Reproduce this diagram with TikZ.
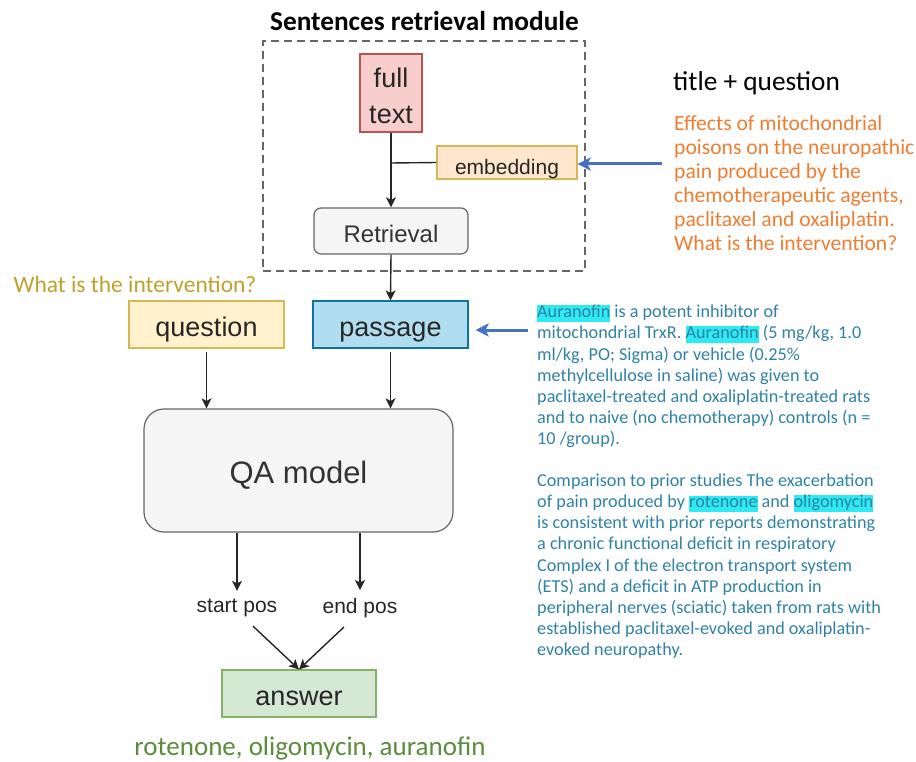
\documentclass[tikz,border=0pt]{standalone}
\usepackage{fontspec}
\setmainfont{Carlito}
\newfontfamily\boxfont{Liberation Sans}
\usetikzlibrary{arrows.meta,calc}

\definecolor{pinkfill}{HTML}{F8CECC}
\definecolor{pinkline}{HTML}{B85450}
\definecolor{orfill}{HTML}{FFE6CC}
\definecolor{goldline}{HTML}{D6B656}
\definecolor{yelfill}{HTML}{FFF2CC}
\definecolor{greyfill}{HTML}{F5F5F5}
\definecolor{greyline}{HTML}{666666}
\definecolor{bluefill}{HTML}{B1DDF0}
\definecolor{blueline}{HTML}{10739E}
\definecolor{greenfill}{HTML}{D5E8D4}
\definecolor{greenline}{HTML}{82B366}
\definecolor{darktext}{HTML}{333333}
\definecolor{orangetext}{HTML}{ED7D31}
\definecolor{olivetext}{HTML}{BFA02A}
\definecolor{greentext}{HTML}{5B8C3E}
\definecolor{tealtext}{HTML}{2F82A5}
\definecolor{hlcyan}{HTML}{2EEAF2}
\definecolor{arrowblue}{HTML}{4472C4}

% cyan highlight behind a word
\newcommand{\hlword}[1]{{\setlength{\fboxsep}{0pt}\colorbox{hlcyan}{\rule[-0.22em]{0pt}{0.88em}#1}}}

\tikzset{
  box/.style={draw, line width=1.2pt, inner sep=0pt, align=center, text depth=0pt,
    font=\boxfont, text=black!85},
  flow/.style={draw=black!85, line width=1.4pt, -{Stealth[length=10pt,width=10pt,inset=2.5pt]}},
  feed/.style={draw=arrowblue, line width=3pt, -{Stealth[length=13pt,width=13pt,inset=3pt]}},
  plain/.style={inner sep=0pt, align=left},
}

\begin{document}
\begin{tikzpicture}[x=1pt,y=-1pt]
\useasboundingbox (0,0) rectangle (916,762);

% retrieval module frame and its title
\node[draw=greyline, line width=1.5pt, dash pattern=on 8pt off 5pt,
      minimum width=322pt, minimum height=230pt, inner sep=0pt] (module) at (424,156) {};
\node[plain, font=\fontsize{27.3}{30}\selectfont\bfseries] (modtitle) at (424.5,21) {Sentences retrieval module};

% boxes inside the module
\node[box, fill=pinkfill, draw=pinkline, minimum width=62pt, minimum height=78pt,
      font=\boxfont\fontsize{27}{36}\selectfont] (full) at (391,93)
  {\raisebox{5pt}[0pt][0pt]{\begin{tabular}[t]{@{}c@{}}full\\text\end{tabular}}};
\node[box, fill=orfill, draw=goldline, minimum width=140pt, minimum height=33pt, text height=25pt,
      font=\boxfont\fontsize{21}{24}\selectfont] (emb) at (507,162.5) {embedding};
\node[box, fill=greyfill, draw=greyline, rounded corners=7pt, minimum width=154pt, minimum height=46pt,
      text height=24pt, font=\boxfont\fontsize{24}{28}\selectfont, text=darktext] (ret) at (391,231) {Retrieval};
\coordinate (junc) at (391,163);

% reader inputs
\node[box, fill=yelfill, draw=goldline, minimum width=155pt, minimum height=47pt, text height=23pt,
      font=\boxfont\fontsize{27}{30}\selectfont] (q) at (206.5,324.5) {question};
\node[box, fill=bluefill, draw=blueline, minimum width=155pt, minimum height=47pt, text height=23pt,
      font=\boxfont\fontsize{27}{30}\selectfont] (pas) at (390.5,324.5) {passage};
\node[plain, font=\fontsize{23.5}{26}\selectfont, text=olivetext] (qtext) at (135,284) {What is the intervention?};

% reader model and outputs
\node[box, fill=greyfill, draw=greyline, rounded corners=20pt, minimum width=309pt, minimum height=123pt,
      text height=25pt, font=\boxfont\fontsize{31}{34}\selectfont, text=darktext] (qa) at (298.5,470.5) {QA model};
\node[plain, font=\boxfont\fontsize{21}{24}\selectfont, text=black!85] (sp) at (237,608) {start pos};
\node[plain, font=\boxfont\fontsize{21}{24}\selectfont, text=black!85] (ep) at (360,608) {end pos};
\node[box, fill=greenfill, draw=greenline, minimum width=154pt, minimum height=47pt, text height=23pt,
      font=\boxfont\fontsize{27}{30}\selectfont] (ans) at (299,693.5) {answer};
\node[plain, font=\fontsize{27}{30}\selectfont, text=greentext] (anstext) at (310,748) {rotenone, oligomycin, auranofin};

% query text on the right
\node[plain, anchor=west, font=\fontsize{27.3}{30}\selectfont] (tq) at (673,83) {title + question};
\node[plain, anchor=north west, font=\fontsize{21.6}{24.1}\selectfont, text=orangetext] (query) at (674,115)
  {Effects of mitochondrial\\poisons on the neuropathic\\pain produced by the\\chemotherapeutic agents,\\paclitaxel and oxaliplatin.\\What is the intervention?};

% retrieved passages
\node[plain, anchor=north west, font=\fontsize{18.2}{21.1}\selectfont, text=tealtext] (para) at (537,305)
  {\hlword{Auranofin} is a potent inhibitor of\\
   mitochondrial TrxR. \hlword{Auranofin} (5 mg/kg, 1.0\\
   ml/kg, PO; Sigma) or vehicle (0.25\%\\
   methylcellulose in saline) was given to\\
   paclitaxel-treated and oxaliplatin-treated rats\\
   and to naive (no chemotherapy) controls (n =\\
   10 /group).\\[21.1pt]
   Comparison to prior studies The exacerbation\\
   of pain produced by \hlword{rotenone} and \hlword{oligomycin}\\
   is consistent with prior reports demonstrating\\
   a chronic functional deficit in respiratory\\
   Complex I of the electron transport system\\
   (ETS) and a deficit in ATP production in\\
   peripheral nerves (sciatic) taken from rats with\\
   established paclitaxel-evoked and oxaliplatin-\\
   evoked neuropathy.};

% connectors
\draw[flow] (full.south) -- (ret.north);
\draw[line width=1.4pt, draw=black!85] (junc) -- (emb.west);
\draw[flow] (ret.south) -- (pas.north);
\draw[flow] ([yshift=-3pt]q.south) -- (q.south |- qa.north);
\draw[flow] ([yshift=-3pt]pas.south) -- (pas.south |- qa.north);
\draw[flow] (qa.south -| sp) -- ([yshift=8pt]sp.north);
\draw[flow] (qa.south -| ep) -- ([yshift=8pt]ep.north);
\draw[flow] ($(sp.south)+(16,9)$) -- (ans.north);
\draw[flow] ($(ep.south)+(-16,9)$) -- (ans.north);

% feeding arrows from the texts
\coordinate (qtail) at (662,164);
\coordinate (ptail) at (528,330);
\draw[feed] (qtail) -- (qtail -| emb.east);
\draw[feed] (ptail) -- ([xshift=7pt]ptail -| pas.east);
\end{tikzpicture}
\end{document}
